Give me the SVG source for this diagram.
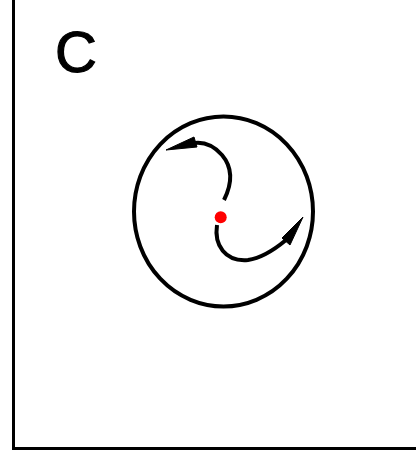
<svg xmlns="http://www.w3.org/2000/svg" width="416" height="450" viewBox="0 0 416 450">
<style>
.ax{stroke:#000;stroke-width:3;fill:none}
.cn{stroke:#000;stroke-width:4;fill:none;stroke-linecap:butt}
.hd{fill:#000;stroke:#000;stroke-width:1;stroke-linejoin:round}
</style>
<rect width="416" height="450" fill="#fff"/>
<g id="axes">
<path class="ax" d="M13.5,0 V448.5 H416"/>
</g>
<text x="55" y="72" font-family="Liberation Sans, Arial, sans-serif" font-size="58" stroke="#000" stroke-width="1.2">C</text>
<g id="circle">
<ellipse cx="223.5" cy="211.5" rx="89.5" ry="95" fill="none" stroke="#000" stroke-width="4"/>
</g>
<g id="center">
<circle cx="220.7" cy="217.3" r="6" fill="#ff0000"/>
</g>
<g id="connectors">
<path class="cn" d="M224,200 C232,184 233,168 222,155 C213,145 205,142 195,143"/>
<polygon class="hd" points="166,150 194,137 197,147"/>
<path class="cn" d="M217,225 C214,245 225,262 248,260 C262,258 274,250 286,240"/>
<polygon class="hd" points="303,217 282,238 290,245"/>
</g>
</svg>
